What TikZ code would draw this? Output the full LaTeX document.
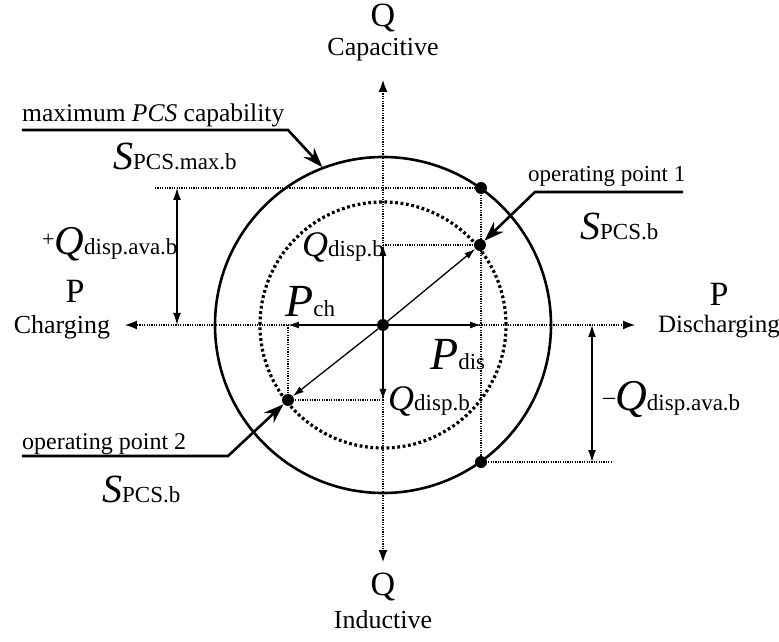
\documentclass[tikz,border=0pt]{standalone}
\usepackage{fontspec}
\setmainfont{Liberation Serif}
\usetikzlibrary{arrows.meta}
\tikzset{
  axisl/.style={line width=1.1pt,dash pattern=on 1.2pt off 1.2pt,-{Latex[length=12pt,width=9pt]}},
  guide/.style={line width=1.1pt,dash pattern=on 1.2pt off 1.2pt},
  vec/.style={line width=1.3pt,-{Latex[length=11pt,width=7pt]}},
  span/.style={line width=1.3pt,{Latex[length=12pt,width=8pt]}-{Latex[length=12pt,width=8pt]}},
  callout/.style={line width=2.6pt,-{Stealth[length=20pt,width=14pt]}},
  opdot/.style={circle,fill=black,inner sep=0pt,minimum size=12pt},
  lbl/.style={font=\fontsize{24}{28}\selectfont,inner sep=0pt,anchor=base west},
  sym/.style={inner sep=0pt,anchor=base west},
  axname/.style={font=\fontsize{34}{38}\selectfont,inner sep=0pt},
  axdir/.style={font=\fontsize{26}{30}\selectfont,inner sep=0pt},
}
\newcommand{\symlab}[3]{{\fontsize{#1}{#1}\selectfont\itshape #2}{\fontsize{23}{23}\selectfont #3}}

\begin{document}
\begin{tikzpicture}[x=1pt,y=1pt]
  \useasboundingbox (-383,-317) rectangle (396,325);
  % circles
  \draw[line width=2.6pt] (0,0) circle (168);
  \draw[line width=3.2pt,dash pattern=on 2.8pt off 2.6pt] (0,0) circle (123);
  % points
  \node[opdot] (o) at (0,0) {};
  \node[opdot] (d1) at (97,80) {};
  \node[opdot] (d2) at (-95,-75) {};
  \node[opdot] (dmax) at (98,137) {};
  \node[opdot] (dmin) at (98,-137) {};
  \coordinate (axR) at (252,0);
  \coordinate (axL) at (-258,0);
  \coordinate (axT) at (0,245);
  \coordinate (axB) at (0,-237);
  \coordinate (qup) at (0,80);
  \coordinate (qdn) at (0,-75);
  \coordinate (pdis) at (98,0);
  \coordinate (pch) at (-95,0);
  \coordinate (gmaxL) at (-228,137);
  \coordinate (gminR) at (230,-137);
  \coordinate (spL1) at (-206,137);
  \coordinate (spL0) at (-206,0);
  \coordinate (spR0) at (209,0);
  \coordinate (spR1) at (209,-137);
  % axes
  \draw[axisl] (o.center) -- (axR);
  \draw[axisl] (o.center) -- (axL);
  \draw[axisl] (o.center) -- (axT);
  \draw[axisl] (o.center) -- (axB);
  % guides
  \draw[guide] (dmax.center) -- (dmin.center);
  \draw[guide] (qup) -- (d1.center);
  \draw[guide] (pch) -- (d2.center);
  \draw[guide] (d2.center) -- (qdn);
  \draw[guide] (gmaxL) -- (dmax.center);
  \draw[guide] (dmin.center) -- (gminR);
  \draw[span] (spL1) -- (spL0);
  \draw[span] (spR0) -- (spR1);
  % vectors
  \draw[vec] (o.center) -- (pdis);
  \draw[vec] (o.center) -- (pch);
  \draw[vec] (o.center) -- (qup);
  \draw[vec] (o.center) -- (qdn);
  \draw[vec] (o) -- (d1);
  \draw[vec] (o) -- (d2);
  % callouts
  \coordinate (mA) at (-361,195);
  \coordinate (mB) at (-95,195);
  \coordinate (mC) at (111:169);
  \coordinate (c1A) at (300,133);
  \coordinate (c1B) at (152,133);
  \coordinate (c2A) at (-361,-131);
  \coordinate (c2B) at (-155,-131);
  \draw[callout] (mA) -- (mB) -- (mC);
  \draw[callout] (c1A) -- (c1B) -- (d1);
  \draw[callout] (c2A) -- (c2B) -- (d2);
  % labels
  \node[axname] (qt) at (0,307) {Q};
  \node[axdir] (cap) at (0,275) {Capacitive};
  \node[axname] (qb) at (0,-262) {Q};
  \node[axdir] (ind) at (0,-295) {Inductive};
  \node[axname] (pl) at (-308,34) {P};
  \node[axdir] (chg) at (-321,-2) {Charging};
  \node[axname] (pr) at (336,31) {P};
  \node[axdir,font=\fontsize{25}{30}\selectfont] (dchg) at (336,-2) {Discharging};
  \node[lbl,font=\fontsize{25.5}{30}\selectfont] (maxl) at (-361,203) {maximum \textit{PCS} capability};
  \node[sym] (smaxl) at (-270,155) {\symlab{40}{S}{PCS.max.b}};
  \node[lbl,font=\fontsize{23}{28}\selectfont] (op1l) at (145,143) {operating point 1};
  \node[sym] (s1l) at (197,85) {\symlab{40}{S}{PCS.b}};
  \node[lbl] (op2l) at (-361,-124) {operating point 2};
  \node[sym] (s2l) at (-281,-177) {\symlab{40}{S}{PCS.b}};
  \node[sym] (qupl) at (-81,68) {\symlab{36}{Q}{disp.b}};
  \node[sym] (qdnl) at (5,-85) {\symlab{36}{Q}{disp.b}};
  \node[sym] (pchl) at (-98,8) {\symlab{46}{P}{ch}};
  \node[sym] (pdisl) at (47,-45) {\symlab{46}{P}{dis}};
  \node[sym] (qplus) at (-341,70) {\raisebox{8pt}{\fontsize{22}{22}\selectfont +}\symlab{41}{Q}{disp.ava.b}};
  \node[sym] (qminus) at (220,-85) {\raisebox{6pt}{\fontsize{24}{24}\selectfont –}\symlab{44}{Q}{disp.ava.b}};
\end{tikzpicture}
\end{document}
